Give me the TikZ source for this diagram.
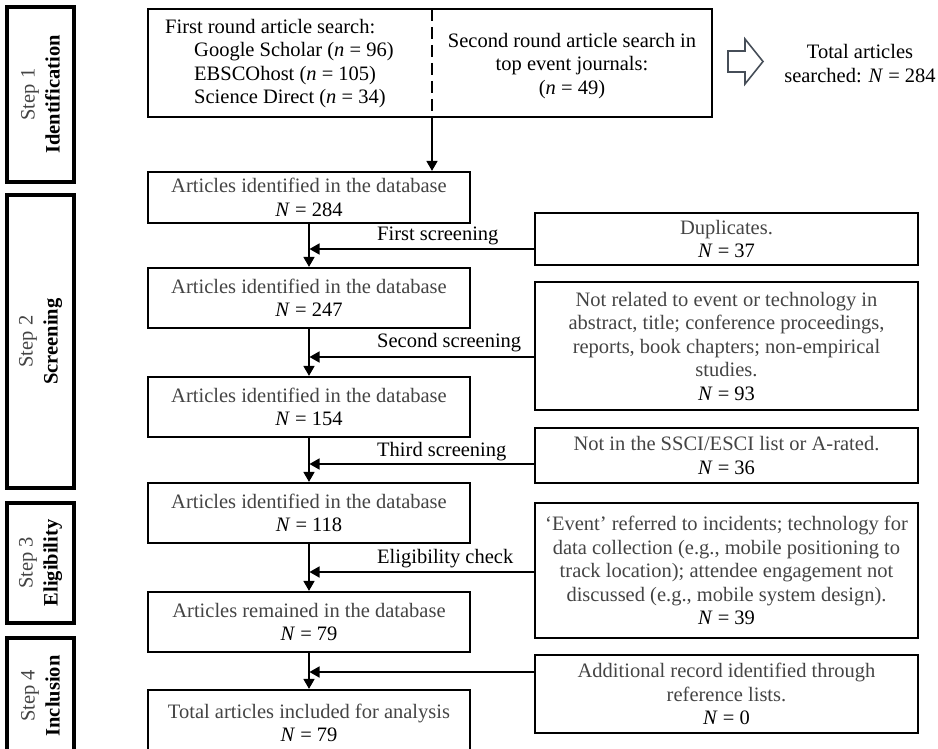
\documentclass[tikz,border=0pt]{standalone}
\usepackage{fontspec}
\setmainfont{Liberation Serif}
\usetikzlibrary{arrows.meta,calc}
\definecolor{txtg}{RGB}{68,68,68}
\definecolor{harrow}{RGB}{70,78,88}
\begin{document}
\begin{tikzpicture}[x=1pt,y=-1pt,
  every node/.style={font=\fontsize{20.5}{23.5}\selectfont, inner sep=0pt},
  mainbox/.style={draw, line width=2.2pt, minimum width=322pt, align=center},
  sidebox/.style={draw, line width=2pt, minimum width=383pt, align=center},
  stepbox/.style={draw, line width=3.2pt, minimum height=67pt, rotate=90, align=center, font=\fontsize{20.5}{25}\selectfont},
  arr/.style={line width=1.6pt, -{Triangle[width=11pt,length=10pt]}},
  lbl/.style={anchor=west},
]
\useasboundingbox (0,0) rectangle (938,749);

% step boxes
\node[stepbox, minimum width=175pt] (s1) at (40.5,94.5) {{\color{txtg}Step 1}\\\textbf{Identification}};
\node[stepbox, minimum width=293pt] (s2) at (40.5,341.5) {{\color{txtg}Step 2}\\\textbf{Screening}};
\node[stepbox, minimum width=120pt] (s3) at (40.5,563) {{\color{txtg}Step 3}\\\textbf{Eligibility}};
\node[stepbox, minimum width=116pt] (s4) at (40.5,696) {{\color{txtg}Step 4}\\\textbf{Inclusion}};

% top search box
\node[draw, line width=1.6pt, minimum width=564pt, minimum height=108pt] (top) at (430,63) {};
\node[anchor=west, align=left] (t1) at (165,63.5) {First round article search:\\
\hspace*{29pt}Google Scholar (\textit{n} = 96)\\
\hspace*{29pt}EBSCOhost (\textit{n} = 105)\\
\hspace*{29pt}Science Direct (\textit{n} = 34)};
\node[align=center] (t2) at (572,66) {Second round article search in\\top event journals:\\(\textit{n} = 49)};
\coordinate (dtop) at (432,9);
\coordinate (dbot) at (432,117);
\draw[line width=1.6pt, dash pattern=on 12pt off 6pt] (dtop) -- (dbot);

% hollow arrow and total
\draw[harrow, line width=1.6pt, fill=white, line join=miter] (728,51) -- (745,51) -- (745,39) -- (763,61.5) -- (745,84) -- (745,72) -- (728,72) -- cycle;
\node[align=center] (tot) at (860,63.5) {Total articles\\searched: \textit{N} = 284};

% main boxes
\node[mainbox, minimum height=51pt] (b1) at (309,197.5) {{\color{txtg}Articles identified in the database}\\\textit{N} = 284};
\node[mainbox, minimum height=60pt] (b2) at (309,298) {{\color{txtg}Articles identified in the database}\\\textit{N} = 247};
\node[mainbox, minimum height=60pt] (b3) at (309,407) {{\color{txtg}Articles identified in the database}\\\textit{N} = 154};
\node[mainbox, minimum height=60pt] (b4) at (309,513) {{\color{txtg}Articles identified in the database}\\\textit{N} = 118};
\node[mainbox, minimum height=60pt] (b5) at (309,622) {{\color{txtg}Articles remained in the database}\\\textit{N} = 79};
\node[mainbox, minimum height=66pt] (b6) at (309,723) {{\color{txtg}Total articles included for analysis}\\\textit{N} = 79};

\draw[arr] (dbot) -- (dbot |- b1.north);
\draw[arr] (b1.south) -- (b2.north);
\draw[arr] (b2.south) -- (b3.north);
\draw[arr] (b3.south) -- (b4.north);
\draw[arr] (b4.south) -- (b5.north);
\draw[arr] (b5.south) -- (b6.north);

% side boxes
\node[sidebox, minimum height=52pt] (dup) at (726.5,239) {{\color{txtg}Duplicates.}\\\textit{N} = 37};
\node[sidebox, minimum height=128pt] (nr) at (726.5,346) {{\color{txtg}Not related to event or technology in}\\{\color{txtg}abstract, title; conference proceedings,}\\{\color{txtg}reports, book chapters; non-empirical}\\{\color{txtg}studies.}\\\textit{N} = 93};
\node[sidebox, minimum height=55pt] (ss) at (726.5,455.5) {{\color{txtg}Not in the SSCI/ESCI list or A-rated.}\\\textit{N} = 36};
\node[sidebox, minimum height=135pt] (ev) at (726.5,570.5) {{\color{txtg}`Event' referred to incidents; technology for}\\{\color{txtg}data collection (e.g., mobile positioning to}\\{\color{txtg}track location); attendee engagement not}\\{\color{txtg}discussed (e.g., mobile system design).}\\\textit{N} = 39};
\node[sidebox, minimum height=78pt] (ad) at (726.5,694) {{\color{txtg}Additional record identified through}\\{\color{txtg}reference lists.}\\\textit{N} = 0};

% side arrows
\coordinate (c1) at (309.5,249);
\coordinate (c2) at (309.5,357);
\coordinate (c3) at (309.5,464);
\coordinate (c4) at (309.5,572);
\coordinate (c5) at (309.5,672);
\draw[arr] (dup.west |- c1) -- (c1);
\draw[arr] (nr.west |- c2) -- (c2);
\draw[arr] (ss.west |- c3) -- (c3);
\draw[arr] (ev.west |- c4) -- (c4);
\draw[arr] (ad.west |- c5) -- (c5);

% labels
\node[lbl] (l1) at (377,236) {First screening};
\node[lbl] (l2) at (377,343) {Second screening};
\node[lbl] (l3) at (377,452) {Third screening};
\node[lbl] (l4) at (377,559) {Eligibility check};
\end{tikzpicture}
\end{document}
